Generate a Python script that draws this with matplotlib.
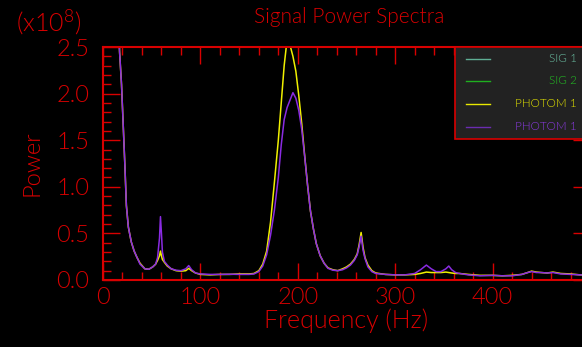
import numpy as np
import matplotlib.pyplot as plt
from matplotlib.lines import Line2D
from matplotlib.patches import Rectangle
from matplotlib.ticker import MultipleLocator
from matplotlib import font_manager

# data (power in units of 1e8)
freq = [10, 14, 17, 19, 21, 22.5, 24, 26, 29, 32, 35, 38, 43, 47, 51, 54, 56, 58, 59, 60,
        61, 63, 66, 70, 75, 80, 85, 88, 91, 95, 100, 110, 120, 130, 140, 150, 155, 160, 164, 168,
        172, 176, 180, 183, 186, 189, 192, 195, 198, 201, 204, 207, 210, 213, 216, 219, 223, 227, 231, 236,
        241, 246, 250, 254, 258, 261, 263, 265, 267, 269, 272, 276, 280, 290, 300, 310, 320, 326, 332, 337,
        342, 347, 352, 355, 358, 362, 366, 375, 387, 400, 410, 420, 430, 436, 440, 445, 450, 456, 462, 470,
        480, 490, 500]
photom1_a = [5.0, 3.3, 2.45, 2.1, 1.6, 1.22, 0.8, 0.57, 0.41, 0.31, 0.24, 0.18, 0.12, 0.115, 0.14, 0.17, 0.21, 0.26, 0.31, 0.26,
             0.22, 0.19, 0.15, 0.12, 0.10, 0.095, 0.10, 0.125, 0.10, 0.075, 0.06, 0.055, 0.06, 0.06, 0.065, 0.065, 0.07, 0.10, 0.17, 0.31,
             0.62, 1.05, 1.5, 1.9, 2.3, 2.58, 2.52, 2.4, 2.24, 1.98, 1.68, 1.34, 1.02, 0.74, 0.55, 0.39, 0.26, 0.18, 0.13, 0.11,
             0.10, 0.12, 0.14, 0.17, 0.22, 0.28, 0.38, 0.51, 0.35, 0.24, 0.16, 0.10, 0.075, 0.06, 0.055, 0.055, 0.06, 0.07, 0.085, 0.08,
             0.08, 0.08, 0.085, 0.08, 0.075, 0.07, 0.07, 0.06, 0.05, 0.05, 0.045, 0.05, 0.06, 0.08, 0.095, 0.085, 0.08, 0.075, 0.085, 0.07,
             0.065, 0.055, 0.05]
photom1_b = [5.0, 3.3, 2.45, 2.1, 1.6, 1.22, 0.8, 0.57, 0.41, 0.31, 0.24, 0.17, 0.12, 0.115, 0.14, 0.17, 0.24, 0.45, 0.68, 0.5,
             0.3, 0.2, 0.16, 0.12, 0.105, 0.10, 0.12, 0.155, 0.11, 0.075, 0.065, 0.06, 0.06, 0.062, 0.06, 0.06, 0.065, 0.09, 0.15, 0.27,
             0.48, 0.75, 1.1, 1.45, 1.72, 1.85, 1.93, 2.01, 1.95, 1.82, 1.62, 1.33, 1.02, 0.74, 0.55, 0.39, 0.26, 0.18, 0.125, 0.105,
             0.10, 0.11, 0.13, 0.16, 0.21, 0.27, 0.36, 0.47, 0.32, 0.23, 0.14, 0.09, 0.07, 0.06, 0.055, 0.055, 0.07, 0.11, 0.16, 0.12,
             0.09, 0.09, 0.12, 0.15, 0.11, 0.08, 0.07, 0.055, 0.045, 0.05, 0.045, 0.045, 0.06, 0.08, 0.09, 0.08, 0.08, 0.075, 0.08, 0.065,
             0.06, 0.055, 0.05]

legend_labels = ['SIG 1', 'SIG 2', 'PHOTOM 1', 'PHOTOM 1']
legend_line_colors = ['#5fae94', '#1fb01f', '#e8e800', '#6a2cb0']
legend_text_colors = ['#6cc0a4', '#22c022', '#e6e600', '#8a3ae0']

RED = '#d80000'

# thin looking font if a light face is installed
fam = 'DejaVu Sans'
wt = 'normal'
for f in font_manager.fontManager.ttflist:
    if f.name in ('Roboto', 'Open Sans', 'Lato') and f.weight in (200, 300, 'light'):
        fam, wt = f.name, 300
        break
plt.rcParams['font.family'] = [fam, 'DejaVu Sans']
plt.rcParams['font.weight'] = wt
plt.rcParams['axes.labelweight'] = wt
plt.rcParams['axes.titleweight'] = wt
plt.rcParams['mathtext.fontset'] = 'custom'
plt.rcParams['mathtext.rm'] = fam
plt.rcParams['mathtext.default'] = 'rm'

fig = plt.figure(figsize=(5.82, 3.47), dpi=100, facecolor='black')
ax = fig.add_axes([103/582, 67/347, 487/582, 233/347], facecolor='black')

ax.plot(freq, photom1_a, color='#f0f000', lw=1.1)
ax.plot(freq, photom1_b, color='#8a2be2', lw=1.1)

ax.set_xlim(0, 500)
ax.set_ylim(0, 2.5)
ax.xaxis.set_major_locator(MultipleLocator(100))
ax.xaxis.set_minor_locator(MultipleLocator(20))
ax.yaxis.set_major_locator(MultipleLocator(0.5))
ax.yaxis.set_minor_locator(MultipleLocator(0.1))
ax.set_xticks([0, 100, 200, 300, 400])
ax.set_xticklabels(['0', '100', '200', '300', '400'])
ax.set_yticks([0, 0.5, 1.0, 1.5, 2.0, 2.5])
ax.set_yticklabels(['0.0', '0.5', '1.0', '1.5', '2.0', '2.5'])

ax.tick_params(which='both', direction='in', top=True, right=True, color=RED,
               labelcolor=RED, labelsize=17)
ax.tick_params(which='major', length=12, width=1)
ax.tick_params(which='minor', length=6, width=1)
ax.tick_params(axis='y', pad=10)
ax.tick_params(axis='x', pad=5)
for s in ax.spines.values():
    s.set_color(RED)
    s.set_linewidth(1.5)

ax.set_xlabel('Frequency (Hz)', color=RED, fontsize=18, labelpad=0, fontweight=wt)
ax.set_ylabel('Power', color=RED, fontsize=17, labelpad=10, fontweight=wt)
fig.text(349/582, 1 - 17/347, 'Signal Power Spectra', color=RED, fontsize=15,
         ha='center', va='center')
fig.text(16/582, 1 - 22/347, r'(x10$^{8}$)', color=RED, fontsize=18, ha='left', va='center')

# legend box drawn by hand (labels right aligned)
fig.add_artist(Rectangle((455/582, 1 - 139/347), 140/582, 92/347, transform=fig.transFigure,
                         facecolor='#222222', edgecolor=RED, lw=1.2, zorder=5))
rows = [59, 81, 104, 127]
for y, lab, lc, tc in zip(rows, legend_labels, legend_line_colors, legend_text_colors):
    yy = 1 - y / 347
    fig.add_artist(Line2D([466/582, 490/582], [yy, yy], transform=fig.transFigure,
                          color=lc, lw=1, zorder=6))
    fig.text(577/582, yy, lab, color=tc, fontsize=8.5, ha='right', va='center', zorder=6)

fig.savefig('out.png', dpi=100, facecolor='black')
